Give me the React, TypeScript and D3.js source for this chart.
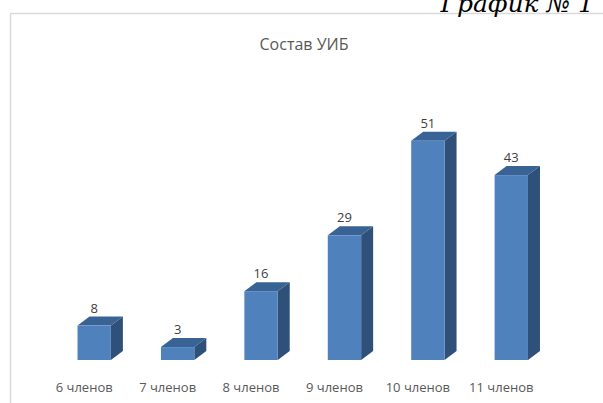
import React, { useEffect, useRef } from "react";
import * as d3 from "d3";

const categories = ["6 членов", "7 членов", "8 членов", "9 членов", "10 членов", "11 членов"];
const values = [8, 3, 16, 29, 51, 43];
const chartTitle = "Состав УИБ";
const pageCaption = "График № 1";

const W = 603;
const H = 403;
const DX = 12;
const DY = -9;

const App: React.FC = () => {
  const svgRef = useRef<SVGSVGElement>(null);

  useEffect(() => {
    const svg = d3.select(svgRef.current);
    svg.selectAll("*").remove();

    const x = d3
      .scaleBand<string>()
      .domain(categories)
      .range([52.5, 553])
      .paddingInner(0.6)
      .paddingOuter(0.3);

    const y = d3.scaleLinear().domain([0, 60]).range([360, 102]);

    // frame of the chart area (only top and left edges are visible)
    svg
      .append("path")
      .attr("d", `M10.5,${H} L10.5,13.5 L${W},13.5`)
      .attr("fill", "none")
      .attr("stroke", "#d9d9d9")
      .attr("stroke-width", 1.5);

    svg
      .append("text")
      .attr("x", 594)
      .attr("y", 12)
      .attr("text-anchor", "end")
      .attr("font-family", "'DejaVu Serif', serif")
      .attr("font-style", "italic")
      .attr("font-size", 25)
      .attr("fill", "#000")
      .text(pageCaption);

    svg
      .append("text")
      .attr("x", 304)
      .attr("y", 50)
      .attr("text-anchor", "middle")
      .attr("font-family", "'Open Sans', sans-serif")
      .attr("font-size", 16)
      .attr("fill", "#595959")
      .text(chartTitle);

    const data = categories.map((c, i) => ({ name: c, value: values[i] }));
    const bw = x.bandwidth();

    const bars = svg.append("g").selectAll("g").data(data).join("g");

    // side face
    bars
      .append("path")
      .attr("fill", "#2f5179")
      .attr("d", (d) => {
        const x1 = x(d.name)! + bw;
        const yt = y(d.value);
        const yb = y(0);
        return `M${x1},${yt} L${x1 + DX},${yt + DY} L${x1 + DX},${yb + DY} L${x1},${yb} Z`;
      });

    // top face
    bars
      .append("path")
      .attr("fill", "#3a6395")
      .attr("d", (d) => {
        const x0 = x(d.name)!;
        const x1 = x0 + bw;
        const yt = y(d.value);
        return `M${x0},${yt} L${x1},${yt} L${x1 + DX},${yt + DY} L${x0 + DX},${yt + DY} Z`;
      });

    // front face
    bars
      .append("rect")
      .attr("x", (d) => x(d.name)!)
      .attr("y", (d) => y(d.value))
      .attr("width", bw)
      .attr("height", (d) => y(0) - y(d.value))
      .attr("fill", "#4f81bd");

    bars
      .append("text")
      .attr("x", (d) => x(d.name)! + bw / 2)
      .attr("y", (d) => y(d.value) + DY - 4)
      .attr("text-anchor", "middle")
      .attr("font-family", "'Open Sans', sans-serif")
      .attr("font-size", 13)
      .attr("fill", "#404040")
      .text((d) => d.value);

    svg
      .append("g")
      .selectAll("text")
      .data(categories)
      .join("text")
      .attr("x", (d) => x(d)! + bw / 2 - 10)
      .attr("y", 392)
      .attr("text-anchor", "middle")
      .attr("font-family", "'Open Sans', sans-serif")
      .attr("font-size", 13)
      .attr("fill", "#595959")
      .text((d) => d);
  }, []);

  return (
    <svg
      ref={svgRef}
      width={W}
      height={H}
      style={{ position: "absolute", left: 0, top: 0, background: "#fff" }}
    ></svg>
  );
};

export default App;
